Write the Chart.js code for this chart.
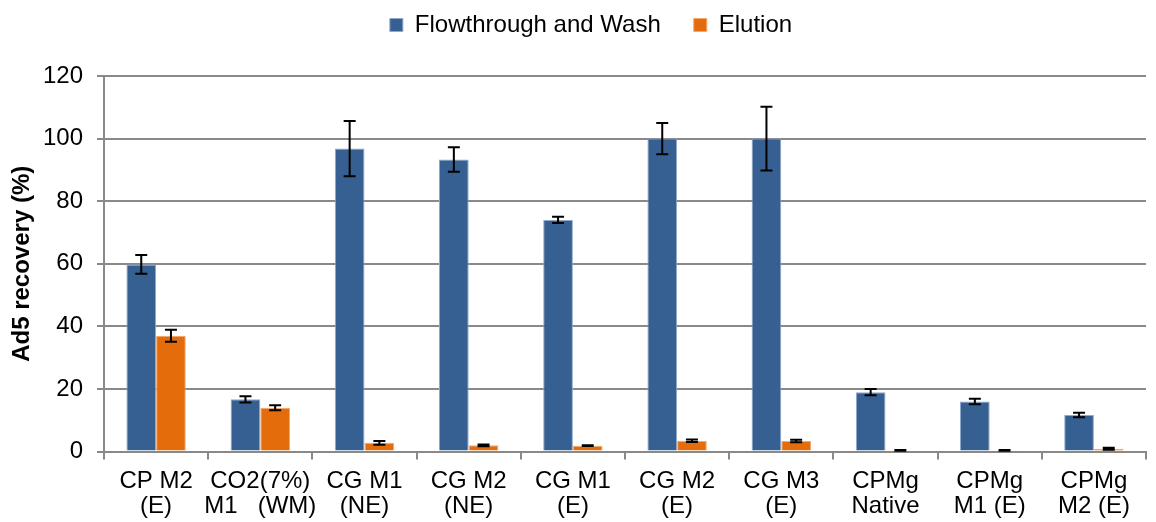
<!DOCTYPE html>
<html>
<head>
<meta charset="utf-8">
<script src="https://cdn.jsdelivr.net/npm/chart.js@4.4.1/dist/chart.umd.min.js"></script>
<style>
  html, body { margin: 0; padding: 0; background: #fff; }
  #wrap { width: 1156px; height: 522px; }
</style>
</head>
<body>
<div id="wrap"><canvas id="recovery-chart" width="1156" height="522"></canvas></div>
<script>
// Categories (two-line tick labels)
const categories = [
    ['CP M2', '(E)'],
    ['CO2(7%)', 'M1   (WM)'],
    ['CG M1', '(NE)'],
    ['CG M2', '(NE)'],
    ['CG M1', '(E)'],
    ['CG M2', '(E)'],
    ['CG M3', '(E)'],
    ['CPMg', 'Native'],
    ['CPMg', 'M1 (E)'],
    ['CPMg', 'M2 (E)']
];

// Flowthrough and Wash
const flowWash    = [59.8, 16.7, 96.8, 93.3, 74.0, 100.0, 100.0, 19.0, 16.0, 11.7];
const flowWashErr = [3.0, 1.0, 8.8, 3.9, 1.0, 5.0, 10.2, 1.0, 0.9, 0.7];

// Elution
const elution    = [37.0, 14.0, 2.8, 2.0, 1.9, 3.5, 3.4, 0.4, 0.4, 0.9];
const elutionErr = [1.9, 0.8, 0.6, 0.3, 0.15, 0.4, 0.4, 0.1, 0.1, 0.3];

const yTicks = [0, 20, 40, 60, 80, 100, 120];

const FONT = "'Liberation Sans', Arial, sans-serif";
const GRID = '#898989';

// Draws the +/- error bars from the arrays above, using the chart's y scale
const errorBars = {
    id: 'errorBars',
    afterDatasetsDraw(chart) {
        const { ctx, scales: { y } } = chart;
        chart.data.datasets.forEach((ds, i) => {
            const meta = chart.getDatasetMeta(i);
            if (meta.hidden) return;
            meta.data.forEach((bar, j) => {
                const v = ds.data[j], e = ds.errors[j];
                const top = y.getPixelForValue(v + e);
                const bot = y.getPixelForValue(v - e);
                const x = bar.x;
                ctx.save();
                ctx.strokeStyle = '#000';
                ctx.lineWidth = 2;
                ctx.beginPath();
                ctx.moveTo(x, top); ctx.lineTo(x, bot);
                ctx.moveTo(x - 6, top); ctx.lineTo(x + 6, top);
                ctx.moveTo(x - 6, bot); ctx.lineTo(x + 6, bot);
                ctx.stroke();
                ctx.restore();
            });
        });
    }
};

// Legend tweaks: more room below it, and nudged a bit to the right
const legendTweak = {
    id: 'legendTweak',
    afterInit(chart) {
        const legend = chart.legend;
        if (!legend) return;
        const fit = legend.fit;
        legend.fit = function () {
            fit.call(this);
            this.height += 29;
        };
    },
    afterLayout(chart) {
        if (!chart.legend) return;
        chart.legend.left += 14;
        chart.legend.right += 14;
    }
};

new Chart(document.getElementById('recovery-chart'), {
    type: 'bar',
    data: {
        labels: categories,
        datasets: [{
            label: 'Flowthrough and Wash',
            data: flowWash,
            errors: flowWashErr,
            backgroundColor: '#376092',
            borderColor: '#8ea9cc',
            borderWidth: 1,
            categoryPercentage: 0.57,
            barPercentage: 1.0
        }, {
            label: 'Elution',
            data: elution,
            errors: elutionErr,
            backgroundColor: '#e46c0a',
            borderColor: '#f3a86a',
            borderWidth: 1,
            categoryPercentage: 0.57,
            barPercentage: 1.0
        }]
    },
    options: {
        responsive: false,
        animation: false,
        devicePixelRatio: 1,
        layout: { padding: { left: 8, right: 10, top: -20, bottom: -6 } },
        plugins: {
            legend: {
                position: 'top',
                labels: {
                    color: '#000',
                    boxWidth: 13,
                    boxHeight: 13,
                    padding: 33,
                    font: { family: FONT, size: 24 }
                }
            },
            tooltip: { enabled: false }
        },
        scales: {
            x: {
                offset: true,
                grid: {
                    offset: true,
                    drawOnChartArea: false,
                    drawTicks: true,
                    tickLength: 8,
                    color: GRID,
                    lineWidth: 2
                },
                border: { color: GRID, width: 2 },
                ticks: {
                    color: '#000',
                    padding: 9,
                    maxRotation: 0,
                    autoSkip: false,
                    font: { family: FONT, size: 24, lineHeight: 1.05 }
                }
            },
            y: {
                min: 0,
                max: 120,
                afterBuildTicks: (axis) => {
                    axis.ticks = yTicks.map(v => ({ value: v }));
                },
                afterFit: (axis) => {
                    axis.width = 96;
                },
                title: {
                    display: true,
                    text: 'Ad5 recovery (%)',
                    color: '#000',
                    font: { family: FONT, size: 24, weight: 'bold' },
                    padding: { top: 0, bottom: 0 }
                },
                grid: {
                    color: GRID,
                    lineWidth: 2,
                    tickLength: 7
                },
                border: { color: GRID, width: 2 },
                ticks: {
                    color: '#000',
                    padding: 14,
                    font: { family: FONT, size: 24 }
                }
            }
        }
    },
    plugins: [errorBars, legendTweak]
});
</script>
</body>
</html>
